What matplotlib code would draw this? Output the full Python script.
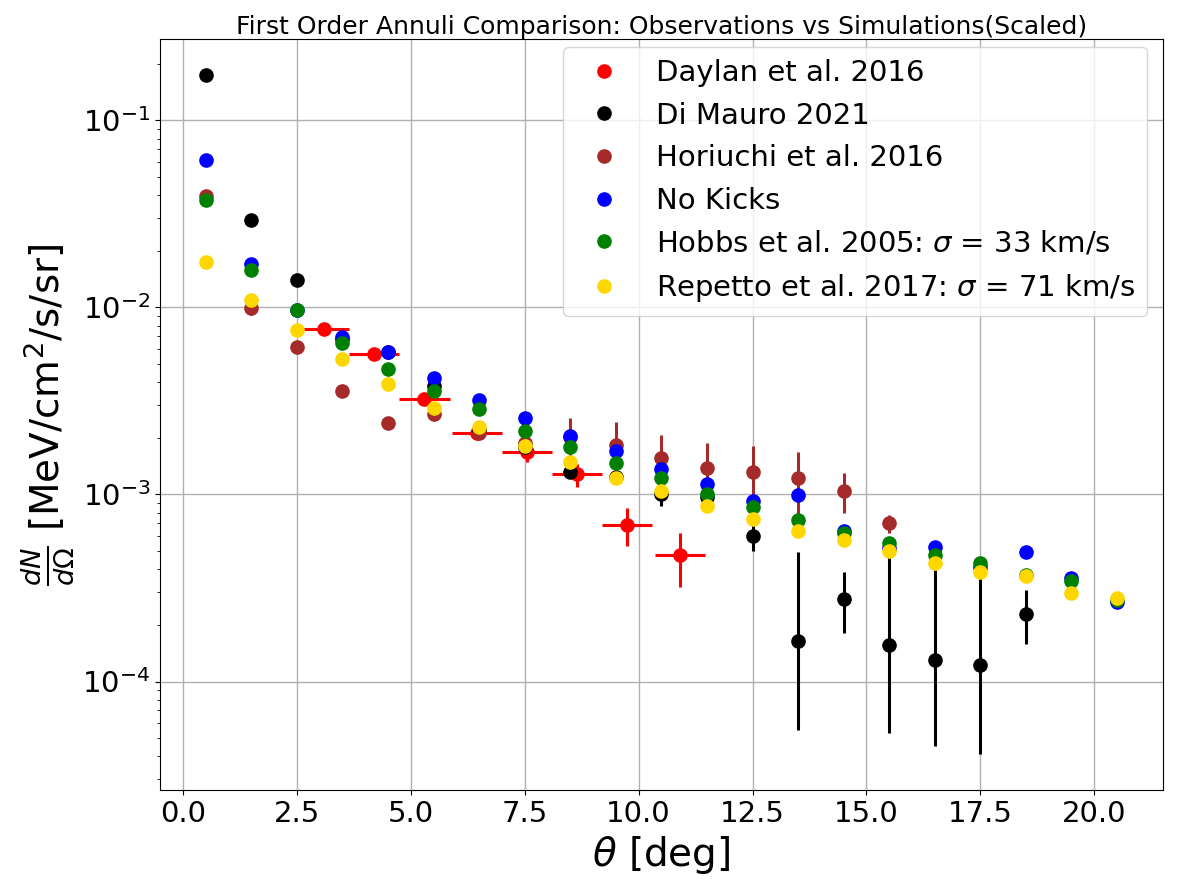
import numpy as np
import matplotlib.pyplot as plt
from matplotlib.lines import Line2D

# annulus centres [deg]
theta_sim = [0.5, 1.5, 2.5, 3.5, 4.5, 5.5, 6.5, 7.5, 8.5, 9.5, 10.5,
             11.5, 12.5, 13.5, 14.5, 15.5, 16.5, 17.5, 18.5, 19.5, 20.5]

# Daylan et al. 2016
theta_daylan = [3.1, 4.2, 5.3, 6.45, 7.55, 8.65, 9.75, 10.9]
daylan = [0.00769, 0.00565, 0.00325, 0.00214, 0.00169, 0.00128, 0.00069, 0.000472]
daylan_yerr = [0.0003, 0.0003, 0.0002, 0.00018, 0.00019, 0.00018, 0.00016, 0.00015]
daylan_xerr = [0.55, 0.55, 0.55, 0.55, 0.55, 0.55, 0.55, 0.55]

# Di Mauro 2021
theta_dimauro = [0.5, 1.5, 2.5, 3.5, 4.5, 5.5, 6.5, 7.5, 8.5, 9.5,
                 10.5, 11.5, 12.5, 13.5, 14.5, 15.5, 16.5, 17.5, 18.5]
dimauro = [0.175, 0.0294, 0.0140, 0.0068, 0.0058, 0.0038, 0.0022, 0.0018, 0.00132, 0.00124,
           0.00101, 0.00097, 0.00060, 0.000164, 0.000275, 0.000156, 0.000131, 0.000122, 0.000229]
dimauro_lo = [0.008, 0.002, 0.0008, 0.0003, 0.0003, 0.0002, 0.0001, 0.0001, 0.0001, 0.0001,
              0.00014, 0.0001, 0.0001, 0.000109, 0.000094, 0.000103, 0.000086, 0.000081, 0.000071]
dimauro_hi = [0.008, 0.002, 0.0008, 0.0003, 0.0003, 0.0002, 0.0001, 0.0001, 0.0001, 0.0001,
              0.00014, 0.0001, 0.0001, 0.00033, 0.000108, 0.00034, 0.000266, 0.00024, 0.000078]

# Horiuchi et al. 2016
theta_horiuchi = [0.5, 1.5, 2.5, 3.5, 4.5, 5.5, 6.5, 7.5, 8.5, 9.5,
                  10.5, 11.5, 12.5, 13.5, 14.5, 15.5]
horiuchi = [0.0394, 0.00996, 0.00616, 0.00359, 0.00242, 0.00270, 0.00214, 0.00188,
            0.00204, 0.00185, 0.00156, 0.00139, 0.00132, 0.00123, 0.00105, 0.00070]
horiuchi_err = [0.003, 0.0008, 0.0004, 0.0002, 0.00015, 0.00015, 0.00015, 0.00015,
                0.00053, 0.0006, 0.00053, 0.0005, 0.0005, 0.00046, 0.00025, 0.00008]

# simulations
no_kicks = [0.0614, 0.0171, 0.0097, 0.00697, 0.00579, 0.00421, 0.00321, 0.00257, 0.00206, 0.00170,
            0.00137, 0.00114, 0.00092, 0.00099, 0.00064, 0.00052, 0.000527, 0.000412, 0.00049,
            0.000356, 0.000265]
hobbs = [0.0375, 0.0159, 0.0097, 0.00647, 0.00470, 0.00359, 0.00288, 0.00219, 0.00180, 0.00148,
         0.00123, 0.00101, 0.00086, 0.00073, 0.000625, 0.000547, 0.000472, 0.000432, 0.000369,
         0.000343, 0.000272]
repetto = [0.0175, 0.0109, 0.00759, 0.00532, 0.00391, 0.00291, 0.00230, 0.00182, 0.00150, 0.00123,
           0.00105, 0.00087, 0.00074, 0.00064, 0.000574, 0.000496, 0.000428, 0.000387, 0.000365,
           0.000299, 0.000278]

labels = ['Daylan et al. 2016', 'Di Mauro 2021', 'Horiuchi et al. 2016', 'No Kicks',
          r'Hobbs et al. 2005: $\sigma$ = 33 km/s', r'Repetto et al. 2017: $\sigma$ = 71 km/s']
colors = ['red', 'black', 'brown', 'blue', 'green', 'gold']

fig = plt.figure(figsize=(11.96, 8.89), dpi=100)
ax = fig.add_axes([0.134, 0.111, 0.838, 0.845])

ms = 9.5
ax.errorbar(theta_daylan, daylan, yerr=daylan_yerr, xerr=daylan_xerr, fmt='o', color='red', ms=ms, elinewidth=2.2)
ax.errorbar(theta_dimauro, dimauro, yerr=[dimauro_lo, dimauro_hi], fmt='o', color='black', ms=ms, elinewidth=2.2)
ax.errorbar(theta_horiuchi, horiuchi, yerr=horiuchi_err, fmt='o', color='brown', ms=ms, elinewidth=2.2)
ax.plot(theta_sim, no_kicks, 'o', color='blue', ms=ms, zorder=3)
ax.plot(theta_sim, hobbs, 'o', color='green', ms=ms, zorder=3)
ax.plot(theta_sim, repetto, 'o', color='gold', ms=ms, zorder=3)

ax.set_yscale('log')
ax.set_ylim(2.62e-5, 0.272)
ax.set_xlim(-0.5, 21.5)
ax.set_xticks([0.0, 2.5, 5.0, 7.5, 10.0, 12.5, 15.0, 17.5, 20.0])
ax.grid(True, which='major', color='#b0b0b0', lw=1.0)
ax.tick_params(labelsize=21)
ax.set_xlabel(r'$\theta$ [deg]', fontsize=28)
ax.set_ylabel(r'$\frac{dN}{d\Omega}$ [MeV/cm$^2$/s/sr]', fontsize=28)
ax.set_title('First Order Annuli Comparison: Observations vs Simulations(Scaled)', fontsize=18, pad=2)

handles = [Line2D([], [], marker='o', ls='', color=c, ms=ms) for c in colors]
ax.legend(handles, labels, loc='upper right', fontsize=21, labelspacing=0.5,
          borderaxespad=0, bbox_to_anchor=(0.985, 0.989))

fig.savefig('out.png', dpi=100)
